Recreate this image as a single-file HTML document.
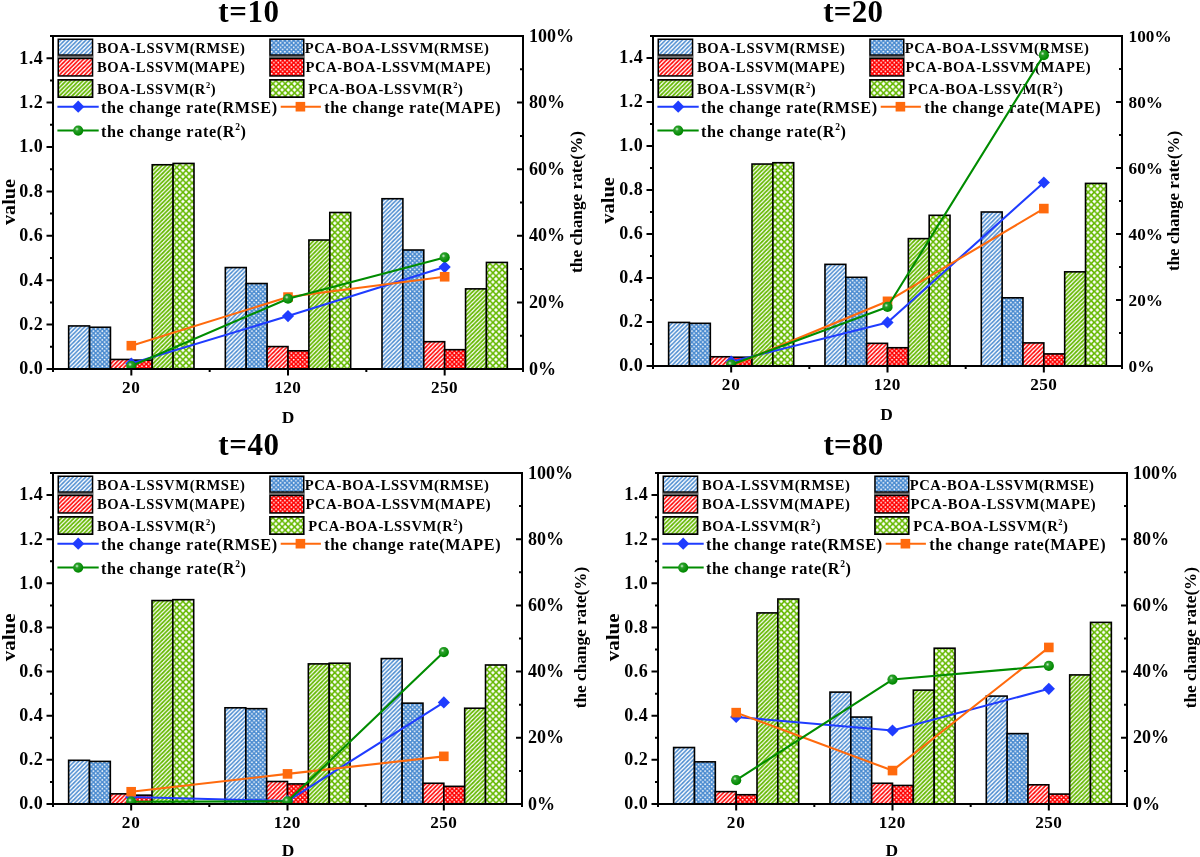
<!DOCTYPE html>
<html><head><meta charset="utf-8"><style>
html,body{margin:0;padding:0;background:#fff;}
svg{display:block;will-change:transform;}
text{font-family:"Liberation Serif", serif;font-weight:bold;fill:#000;}
</style></head><body>
<svg width="1200" height="857" viewBox="0 0 1200 857">
<rect width="1200" height="857" fill="#fff"/>
<defs><pattern id="hb" patternUnits="userSpaceOnUse" width="4.2" height="4.2"><rect width="4.2" height="4.2" fill="#fff"/><path d="M0 4.2L4.2 0M-2.10 2.10L2.10 -2.10M2.10 6.30L6.30 2.10" stroke="#4a8bd0" stroke-width="1.54"/></pattern><pattern id="hr" patternUnits="userSpaceOnUse" width="4.2" height="4.2"><rect width="4.2" height="4.2" fill="#fff"/><path d="M0 4.2L4.2 0M-2.10 2.10L2.10 -2.10M2.10 6.30L6.30 2.10" stroke="#ff0000" stroke-width="1.63"/></pattern><pattern id="hg" patternUnits="userSpaceOnUse" width="4.2" height="4.2"><rect width="4.2" height="4.2" fill="#fff"/><path d="M0 4.2L4.2 0M-2.10 2.10L2.10 -2.10M2.10 6.30L6.30 2.10" stroke="#64b800" stroke-width="1.72"/></pattern><pattern id="db" patternUnits="userSpaceOnUse" width="4.4" height="4.4"><rect width="4.4" height="4.4" fill="#4a8bd0"/><circle cx="1.10" cy="1.10" r="0.9" fill="#fff"/><circle cx="3.30" cy="3.30" r="0.9" fill="#fff"/></pattern><pattern id="dr" patternUnits="userSpaceOnUse" width="4.4" height="4.4"><rect width="4.4" height="4.4" fill="#ff0000"/><circle cx="1.10" cy="1.10" r="0.9" fill="#fff"/><circle cx="3.30" cy="3.30" r="0.9" fill="#fff"/></pattern><pattern id="xg" patternUnits="userSpaceOnUse" width="6.2" height="6.2"><rect width="6.2" height="6.2" fill="#64b800"/><path d="M-1.95 0.00L0.00 -1.95L1.95 0.00L0.00 1.95Z" fill="#fff"/><path d="M4.25 0.00L6.20 -1.95L8.15 0.00L6.20 1.95Z" fill="#fff"/><path d="M-1.95 6.20L0.00 4.25L1.95 6.20L0.00 8.15Z" fill="#fff"/><path d="M4.25 6.20L6.20 4.25L8.15 6.20L6.20 8.15Z" fill="#fff"/><path d="M1.15 3.10L3.10 1.15L5.05 3.10L3.10 5.05Z" fill="#fff"/></pattern><radialGradient id="ball" cx="0.38" cy="0.35" r="0.6"><stop offset="0" stop-color="#d8f0d8"/><stop offset="0.3" stop-color="#2aa02a"/><stop offset="1" stop-color="#008800"/></radialGradient></defs>
<text x="218.2" y="21.8" font-size="31" textLength="60.8" lengthAdjust="spacing">t=10</text>
<rect x="68.67" y="325.93" width="20.89" height="43.07" fill="url(#hb)" stroke="#000" stroke-width="1.6"/>
<rect x="89.56" y="327.26" width="20.89" height="41.74" fill="url(#db)" stroke="#000" stroke-width="1.6"/>
<rect x="110.44" y="359.45" width="20.89" height="9.55" fill="url(#hr)" stroke="#000" stroke-width="1.6"/>
<rect x="131.33" y="360.12" width="20.89" height="8.88" fill="url(#dr)" stroke="#000" stroke-width="1.6"/>
<rect x="152.22" y="164.76" width="20.89" height="204.24" fill="url(#hg)" stroke="#000" stroke-width="1.6"/>
<rect x="173.11" y="163.43" width="20.89" height="205.57" fill="url(#xg)" stroke="#000" stroke-width="1.6"/>
<rect x="225.33" y="267.55" width="20.89" height="101.45" fill="url(#hb)" stroke="#000" stroke-width="1.6"/>
<rect x="246.22" y="283.53" width="20.89" height="85.47" fill="url(#db)" stroke="#000" stroke-width="1.6"/>
<rect x="267.11" y="346.58" width="20.89" height="22.42" fill="url(#hr)" stroke="#000" stroke-width="1.6"/>
<rect x="288" y="350.8" width="20.89" height="18.2" fill="url(#dr)" stroke="#000" stroke-width="1.6"/>
<rect x="308.89" y="240.02" width="20.89" height="128.98" fill="url(#hg)" stroke="#000" stroke-width="1.6"/>
<rect x="329.78" y="212.49" width="20.89" height="156.51" fill="url(#xg)" stroke="#000" stroke-width="1.6"/>
<rect x="382" y="198.73" width="20.89" height="170.27" fill="url(#hb)" stroke="#000" stroke-width="1.6"/>
<rect x="402.89" y="250.01" width="20.89" height="118.99" fill="url(#db)" stroke="#000" stroke-width="1.6"/>
<rect x="423.78" y="341.69" width="20.89" height="27.31" fill="url(#hr)" stroke="#000" stroke-width="1.6"/>
<rect x="444.67" y="349.69" width="20.89" height="19.31" fill="url(#dr)" stroke="#000" stroke-width="1.6"/>
<rect x="465.56" y="288.86" width="20.89" height="80.14" fill="url(#hg)" stroke="#000" stroke-width="1.6"/>
<rect x="486.44" y="262.44" width="20.89" height="106.56" fill="url(#xg)" stroke="#000" stroke-width="1.6"/>
<rect x="57.25" y="55.6" width="36.3" height="2.2" fill="#6e6e6e"/>
<rect x="268.95" y="55.6" width="35.8" height="2.2" fill="#6e6e6e"/>
<rect x="58.25" y="39.25" width="34.3" height="15.8" fill="url(#hb)" stroke="#000" stroke-width="1.5"/>
<rect x="58.25" y="58.45" width="34.3" height="17.5" fill="url(#hr)" stroke="#000" stroke-width="1.5"/>
<rect x="58.25" y="79.85" width="34.3" height="17.3" fill="url(#hg)" stroke="#000" stroke-width="1.7"/>
<rect x="269.95" y="39.25" width="33.8" height="15.8" fill="url(#db)" stroke="#000" stroke-width="1.5"/>
<rect x="269.95" y="58.45" width="33.8" height="17.5" fill="url(#dr)" stroke="#000" stroke-width="1.5"/>
<rect x="269.95" y="79.85" width="33.8" height="17.3" fill="url(#xg)" stroke="#000" stroke-width="1.7"/>
<text x="96.9" y="53.3" font-size="14.6" textLength="148" lengthAdjust="spacing">BOA-LSSVM(RMSE)</text>
<text x="96.9" y="72.3" font-size="14.6" textLength="148" lengthAdjust="spacing">BOA-LSSVM(MAPE)</text>
<text x="96.9" y="94.2" font-size="14.6" textLength="118.8" lengthAdjust="spacing">BOA-LSSVM(R<tspan font-size="8.5" dy="-6">2</tspan><tspan dy="6">)</tspan></text>
<text x="304.7" y="53.3" font-size="14.6" textLength="184.2" lengthAdjust="spacing">PCA-BOA-LSSVM(RMSE)</text>
<text x="305.5" y="72.3" font-size="14.6" textLength="185.2" lengthAdjust="spacing">PCA-BOA-LSSVM(MAPE)</text>
<text x="308.2" y="94.2" font-size="14.6" textLength="154.7" lengthAdjust="spacing">PCA-BOA-LSSVM(R<tspan font-size="8.5" dy="-6">2</tspan><tspan dy="6">)</tspan></text>
<line x1="57.4" y1="106.7" x2="98.7" y2="106.7" stroke="#1f3cff" stroke-width="2"/>
<path d="M78.2 100.6L84.3 106.7L78.2 112.8L72.1 106.7Z" fill="#1f3cff"/>
<line x1="280.7" y1="106.7" x2="320.9" y2="106.7" stroke="#ff6a0d" stroke-width="2"/>
<rect x="295.6" y="101.9" width="9.6" height="9.6" fill="#ff6a0d"/>
<line x1="57.4" y1="130.6" x2="98.7" y2="130.6" stroke="#008c00" stroke-width="2"/>
<circle cx="78.2" cy="130.6" r="5.1" fill="url(#ball)"/>
<text x="100.9" y="113.3" font-size="16.2" textLength="176.3" lengthAdjust="spacing">the change rate(RMSE)</text>
<text x="324.2" y="113.3" font-size="16.2" textLength="176.4" lengthAdjust="spacing">the change rate(MAPE)</text>
<text x="100.9" y="136.8" font-size="16.2" textLength="145.1" lengthAdjust="spacing">the change rate(R<tspan font-size="9.5" dy="-6.5">2</tspan><tspan dy="6.5">)</tspan></text>
<clipPath id="ct10"><rect x="53" y="36" width="470" height="333"/></clipPath><g clip-path="url(#ct10)">
<polyline points="131.33,363.51 288,316.05 444.67,267.1" fill="none" stroke="#1f3cff" stroke-width="2.1" stroke-linejoin="round"/>
<path d="M131.33 357.41L137.43 363.51L131.33 369.61L125.23 363.51Z" fill="#1f3cff"/>
<path d="M288 309.95L294.1 316.05L288 322.15L281.9 316.05Z" fill="#1f3cff"/>
<path d="M444.67 261L450.77 267.1L444.67 273.2L438.57 267.1Z" fill="#1f3cff"/>
<polyline points="131.33,345.69 288,297.07 444.67,276.76" fill="none" stroke="#ff6a0d" stroke-width="2.1" stroke-linejoin="round"/>
<rect x="126.53" y="340.89" width="9.6" height="9.6" fill="#ff6a0d"/>
<rect x="283.2" y="292.27" width="9.6" height="9.6" fill="#ff6a0d"/>
<rect x="439.87" y="271.96" width="9.6" height="9.6" fill="#ff6a0d"/>
<polyline points="131.33,366 288,298.74 444.67,257.44" fill="none" stroke="#008c00" stroke-width="2.1" stroke-linejoin="round"/>
<circle cx="131.33" cy="366" r="5.1" fill="url(#ball)"/>
<circle cx="288" cy="298.74" r="5.1" fill="url(#ball)"/>
<circle cx="444.67" cy="257.44" r="5.1" fill="url(#ball)"/>
</g>
<rect x="53" y="36" width="470" height="333" fill="none" stroke="#000" stroke-width="2"/>
<path d="M46.5 369H53M50 346.8H53M46.5 324.6H53M50 302.4H53M46.5 280.2H53M50 258H53M46.5 235.8H53M50 213.6H53M46.5 191.4H53M50 169.2H53M46.5 147H53M50 124.8H53M46.5 102.6H53M50 80.4H53M46.5 58.2H53M50 36H53M523 369H517M523 335.7H520M523 302.4H517M523 269.1H520M523 235.8H517M523 202.5H520M523 169.2H517M523 135.9H520M523 102.6H517M523 69.3H520M523 36H517M131.33 369V375.5M288 369V375.5M444.67 369V375.5M53 369V372M209.67 369V372M366.33 369V372M523 369V372" stroke="#000" stroke-width="2" fill="none"/>
<text x="42.8" y="374.3" font-size="18" text-anchor="end" textLength="23.5" lengthAdjust="spacing">0.0</text>
<text x="42.8" y="329.9" font-size="18" text-anchor="end" textLength="23.5" lengthAdjust="spacing">0.2</text>
<text x="42.8" y="285.5" font-size="18" text-anchor="end" textLength="23.5" lengthAdjust="spacing">0.4</text>
<text x="42.8" y="241.1" font-size="18" text-anchor="end" textLength="23.5" lengthAdjust="spacing">0.6</text>
<text x="42.8" y="196.7" font-size="18" text-anchor="end" textLength="23.5" lengthAdjust="spacing">0.8</text>
<text x="42.8" y="152.3" font-size="18" text-anchor="end" textLength="23.5" lengthAdjust="spacing">1.0</text>
<text x="42.8" y="107.9" font-size="18" text-anchor="end" textLength="23.5" lengthAdjust="spacing">1.2</text>
<text x="42.8" y="63.5" font-size="18" text-anchor="end" textLength="23.5" lengthAdjust="spacing">1.4</text>
<text x="529" y="374.6" font-size="18">0%</text>
<text x="529" y="308" font-size="18">20%</text>
<text x="529" y="241.4" font-size="18">40%</text>
<text x="529" y="174.8" font-size="18">60%</text>
<text x="529" y="108.2" font-size="18">80%</text>
<text x="529" y="41.6" font-size="18">100%</text>
<text x="130.93" y="393.4" font-size="17.2" text-anchor="middle" textLength="18" lengthAdjust="spacing">20</text>
<text x="287.6" y="393.4" font-size="17.2" text-anchor="middle" textLength="26.6" lengthAdjust="spacing">120</text>
<text x="444.27" y="393.4" font-size="17.2" text-anchor="middle" textLength="26.6" lengthAdjust="spacing">250</text>
<text x="288" y="422.5" font-size="17.5" text-anchor="middle" textLength="12.6" lengthAdjust="spacingAndGlyphs">D</text>
<text transform="translate(14.5,202) rotate(-90)" font-size="19.6" text-anchor="middle" textLength="46" lengthAdjust="spacingAndGlyphs">value</text>
<text transform="translate(582,202) rotate(-90)" font-size="17.4" text-anchor="middle" textLength="141.8" lengthAdjust="spacingAndGlyphs">the change rate(%)</text><text x="823.2" y="21.8" font-size="31" textLength="59.8" lengthAdjust="spacing">t=20</text>
<rect x="668.63" y="322.44" width="20.84" height="43.56" fill="url(#hb)" stroke="#000" stroke-width="1.6"/>
<rect x="689.48" y="323.32" width="20.84" height="42.68" fill="url(#db)" stroke="#000" stroke-width="1.6"/>
<rect x="710.32" y="356.76" width="20.84" height="9.24" fill="url(#hr)" stroke="#000" stroke-width="1.6"/>
<rect x="731.17" y="357.2" width="20.84" height="8.8" fill="url(#dr)" stroke="#000" stroke-width="1.6"/>
<rect x="752.01" y="164.04" width="20.84" height="201.96" fill="url(#hg)" stroke="#000" stroke-width="1.6"/>
<rect x="772.86" y="162.72" width="20.84" height="203.28" fill="url(#xg)" stroke="#000" stroke-width="1.6"/>
<rect x="824.97" y="264.36" width="20.84" height="101.64" fill="url(#hb)" stroke="#000" stroke-width="1.6"/>
<rect x="845.81" y="277.34" width="20.84" height="88.66" fill="url(#db)" stroke="#000" stroke-width="1.6"/>
<rect x="866.66" y="343.34" width="20.84" height="22.66" fill="url(#hr)" stroke="#000" stroke-width="1.6"/>
<rect x="887.5" y="347.74" width="20.84" height="18.26" fill="url(#dr)" stroke="#000" stroke-width="1.6"/>
<rect x="908.34" y="238.62" width="20.84" height="127.38" fill="url(#hg)" stroke="#000" stroke-width="1.6"/>
<rect x="929.19" y="215.3" width="20.84" height="150.7" fill="url(#xg)" stroke="#000" stroke-width="1.6"/>
<rect x="981.3" y="212" width="20.84" height="154" fill="url(#hb)" stroke="#000" stroke-width="1.6"/>
<rect x="1002.14" y="297.8" width="20.84" height="68.2" fill="url(#db)" stroke="#000" stroke-width="1.6"/>
<rect x="1022.99" y="342.9" width="20.84" height="23.1" fill="url(#hr)" stroke="#000" stroke-width="1.6"/>
<rect x="1043.83" y="353.9" width="20.84" height="12.1" fill="url(#dr)" stroke="#000" stroke-width="1.6"/>
<rect x="1064.68" y="271.84" width="20.84" height="94.16" fill="url(#hg)" stroke="#000" stroke-width="1.6"/>
<rect x="1085.52" y="183.4" width="20.84" height="182.6" fill="url(#xg)" stroke="#000" stroke-width="1.6"/>
<rect x="657.25" y="55.6" width="36.3" height="2.2" fill="#6e6e6e"/>
<rect x="868.95" y="55.6" width="35.8" height="2.2" fill="#6e6e6e"/>
<rect x="658.25" y="39.25" width="34.3" height="15.8" fill="url(#hb)" stroke="#000" stroke-width="1.5"/>
<rect x="658.25" y="58.45" width="34.3" height="17.5" fill="url(#hr)" stroke="#000" stroke-width="1.5"/>
<rect x="658.25" y="79.85" width="34.3" height="17.3" fill="url(#hg)" stroke="#000" stroke-width="1.7"/>
<rect x="869.95" y="39.25" width="33.8" height="15.8" fill="url(#db)" stroke="#000" stroke-width="1.5"/>
<rect x="869.95" y="58.45" width="33.8" height="17.5" fill="url(#dr)" stroke="#000" stroke-width="1.5"/>
<rect x="869.95" y="79.85" width="33.8" height="17.3" fill="url(#xg)" stroke="#000" stroke-width="1.7"/>
<text x="696.9" y="53.3" font-size="14.6" textLength="148" lengthAdjust="spacing">BOA-LSSVM(RMSE)</text>
<text x="696.9" y="72.3" font-size="14.6" textLength="148" lengthAdjust="spacing">BOA-LSSVM(MAPE)</text>
<text x="696.9" y="94.2" font-size="14.6" textLength="118.8" lengthAdjust="spacing">BOA-LSSVM(R<tspan font-size="8.5" dy="-6">2</tspan><tspan dy="6">)</tspan></text>
<text x="904.7" y="53.3" font-size="14.6" textLength="184.2" lengthAdjust="spacing">PCA-BOA-LSSVM(RMSE)</text>
<text x="905.5" y="72.3" font-size="14.6" textLength="185.2" lengthAdjust="spacing">PCA-BOA-LSSVM(MAPE)</text>
<text x="908.2" y="94.2" font-size="14.6" textLength="154.7" lengthAdjust="spacing">PCA-BOA-LSSVM(R<tspan font-size="8.5" dy="-6">2</tspan><tspan dy="6">)</tspan></text>
<line x1="657.4" y1="106.7" x2="698.7" y2="106.7" stroke="#1f3cff" stroke-width="2"/>
<path d="M678.2 100.6L684.3 106.7L678.2 112.8L672.1 106.7Z" fill="#1f3cff"/>
<line x1="880.7" y1="106.7" x2="920.9" y2="106.7" stroke="#ff6a0d" stroke-width="2"/>
<rect x="895.6" y="101.9" width="9.6" height="9.6" fill="#ff6a0d"/>
<line x1="657.4" y1="130.6" x2="698.7" y2="130.6" stroke="#008c00" stroke-width="2"/>
<circle cx="678.2" cy="130.6" r="5.1" fill="url(#ball)"/>
<text x="700.9" y="113.3" font-size="16.2" textLength="176.3" lengthAdjust="spacing">the change rate(RMSE)</text>
<text x="924.2" y="113.3" font-size="16.2" textLength="176.4" lengthAdjust="spacing">the change rate(MAPE)</text>
<text x="700.9" y="136.8" font-size="16.2" textLength="145.1" lengthAdjust="spacing">the change rate(R<tspan font-size="9.5" dy="-6.5">2</tspan><tspan dy="6.5">)</tspan></text>
<clipPath id="ct20"><rect x="653" y="36" width="469" height="330"/></clipPath><g clip-path="url(#ct20)">
<polyline points="731.17,361.71 887.5,322.44 1043.83,182.52" fill="none" stroke="#1f3cff" stroke-width="2.1" stroke-linejoin="round"/>
<path d="M731.17 355.61L737.27 361.71L731.17 367.81L725.07 361.71Z" fill="#1f3cff"/>
<path d="M887.5 316.34L893.6 322.44L887.5 328.54L881.4 322.44Z" fill="#1f3cff"/>
<path d="M1043.83 176.42L1049.93 182.52L1043.83 188.62L1037.73 182.52Z" fill="#1f3cff"/>
<polyline points="731.17,366 887.5,301.32 1043.83,208.59" fill="none" stroke="#ff6a0d" stroke-width="2.1" stroke-linejoin="round"/>
<rect x="726.37" y="361.2" width="9.6" height="9.6" fill="#ff6a0d"/>
<rect x="882.7" y="296.52" width="9.6" height="9.6" fill="#ff6a0d"/>
<rect x="1039.03" y="203.79" width="9.6" height="9.6" fill="#ff6a0d"/>
<polyline points="731.17,364.68 887.5,306.93 1043.83,55.14" fill="none" stroke="#008c00" stroke-width="2.1" stroke-linejoin="round"/>
<circle cx="731.17" cy="364.68" r="5.1" fill="url(#ball)"/>
<circle cx="887.5" cy="306.93" r="5.1" fill="url(#ball)"/>
<circle cx="1043.83" cy="55.14" r="5.1" fill="url(#ball)"/>
</g>
<rect x="653" y="36" width="469" height="330" fill="none" stroke="#000" stroke-width="2"/>
<path d="M646.5 366H653M650 344H653M646.5 322H653M650 300H653M646.5 278H653M650 256H653M646.5 234H653M650 212H653M646.5 190H653M650 168H653M646.5 146H653M650 124H653M646.5 102H653M650 80H653M646.5 58H653M650 36H653M1122 366H1116M1122 333H1119M1122 300H1116M1122 267H1119M1122 234H1116M1122 201H1119M1122 168H1116M1122 135H1119M1122 102H1116M1122 69H1119M1122 36H1116M731.17 366V372.5M887.5 366V372.5M1043.83 366V372.5M653 366V369M809.33 366V369M965.67 366V369M1122 366V369" stroke="#000" stroke-width="2" fill="none"/>
<text x="642.8" y="371.3" font-size="18" text-anchor="end" textLength="23.5" lengthAdjust="spacing">0.0</text>
<text x="642.8" y="327.3" font-size="18" text-anchor="end" textLength="23.5" lengthAdjust="spacing">0.2</text>
<text x="642.8" y="283.3" font-size="18" text-anchor="end" textLength="23.5" lengthAdjust="spacing">0.4</text>
<text x="642.8" y="239.3" font-size="18" text-anchor="end" textLength="23.5" lengthAdjust="spacing">0.6</text>
<text x="642.8" y="195.3" font-size="18" text-anchor="end" textLength="23.5" lengthAdjust="spacing">0.8</text>
<text x="642.8" y="151.3" font-size="18" text-anchor="end" textLength="23.5" lengthAdjust="spacing">1.0</text>
<text x="642.8" y="107.3" font-size="18" text-anchor="end" textLength="23.5" lengthAdjust="spacing">1.2</text>
<text x="642.8" y="63.3" font-size="18" text-anchor="end" textLength="23.5" lengthAdjust="spacing">1.4</text>
<text x="1128.6" y="371.6" font-size="17.2">0%</text>
<text x="1128.6" y="305.6" font-size="17.2">20%</text>
<text x="1128.6" y="239.6" font-size="17.2">40%</text>
<text x="1128.6" y="173.6" font-size="17.2">60%</text>
<text x="1128.6" y="107.6" font-size="17.2">80%</text>
<text x="1128.6" y="41.6" font-size="17.2">100%</text>
<text x="730.77" y="390.4" font-size="17.2" text-anchor="middle" textLength="18" lengthAdjust="spacing">20</text>
<text x="887.1" y="390.4" font-size="17.2" text-anchor="middle" textLength="26.6" lengthAdjust="spacing">120</text>
<text x="1043.43" y="390.4" font-size="17.2" text-anchor="middle" textLength="26.6" lengthAdjust="spacing">250</text>
<text x="886.5" y="419.5" font-size="17.5" text-anchor="middle" textLength="12.6" lengthAdjust="spacingAndGlyphs">D</text>
<text transform="translate(614.4,200.4) rotate(-90)" font-size="19.6" text-anchor="middle" textLength="46.6" lengthAdjust="spacingAndGlyphs">value</text>
<text transform="translate(1179.2,201) rotate(-90)" font-size="17.4" text-anchor="middle" textLength="140.2" lengthAdjust="spacingAndGlyphs">the change rate(%)</text><text x="218.2" y="455" font-size="31" textLength="60.8" lengthAdjust="spacing">t=40</text>
<rect x="68.63" y="760.31" width="20.84" height="43.69" fill="url(#hb)" stroke="#000" stroke-width="1.6"/>
<rect x="89.48" y="761.41" width="20.84" height="42.59" fill="url(#db)" stroke="#000" stroke-width="1.6"/>
<rect x="110.32" y="793.85" width="20.84" height="10.15" fill="url(#hr)" stroke="#000" stroke-width="1.6"/>
<rect x="131.17" y="795.17" width="20.84" height="8.83" fill="url(#dr)" stroke="#000" stroke-width="1.6"/>
<rect x="152.01" y="600.55" width="20.84" height="203.45" fill="url(#hg)" stroke="#000" stroke-width="1.6"/>
<rect x="172.86" y="599.66" width="20.84" height="204.34" fill="url(#xg)" stroke="#000" stroke-width="1.6"/>
<rect x="224.97" y="707.79" width="20.84" height="96.21" fill="url(#hb)" stroke="#000" stroke-width="1.6"/>
<rect x="245.81" y="708.67" width="20.84" height="95.33" fill="url(#db)" stroke="#000" stroke-width="1.6"/>
<rect x="266.66" y="781.49" width="20.84" height="22.51" fill="url(#hr)" stroke="#000" stroke-width="1.6"/>
<rect x="287.5" y="783.92" width="20.84" height="20.08" fill="url(#dr)" stroke="#000" stroke-width="1.6"/>
<rect x="308.34" y="663.88" width="20.84" height="140.12" fill="url(#hg)" stroke="#000" stroke-width="1.6"/>
<rect x="329.19" y="663.21" width="20.84" height="140.79" fill="url(#xg)" stroke="#000" stroke-width="1.6"/>
<rect x="381.3" y="658.58" width="20.84" height="145.42" fill="url(#hb)" stroke="#000" stroke-width="1.6"/>
<rect x="402.14" y="703.16" width="20.84" height="100.84" fill="url(#db)" stroke="#000" stroke-width="1.6"/>
<rect x="422.99" y="783.26" width="20.84" height="20.74" fill="url(#hr)" stroke="#000" stroke-width="1.6"/>
<rect x="443.83" y="786.35" width="20.84" height="17.65" fill="url(#dr)" stroke="#000" stroke-width="1.6"/>
<rect x="464.68" y="708.23" width="20.84" height="95.77" fill="url(#hg)" stroke="#000" stroke-width="1.6"/>
<rect x="485.52" y="664.98" width="20.84" height="139.02" fill="url(#xg)" stroke="#000" stroke-width="1.6"/>
<rect x="57.25" y="492.6" width="36.3" height="2.2" fill="#6e6e6e"/>
<rect x="268.95" y="492.6" width="35.8" height="2.2" fill="#6e6e6e"/>
<rect x="58.25" y="476.25" width="34.3" height="15.8" fill="url(#hb)" stroke="#000" stroke-width="1.5"/>
<rect x="58.25" y="495.45" width="34.3" height="17.5" fill="url(#hr)" stroke="#000" stroke-width="1.5"/>
<rect x="58.25" y="516.85" width="34.3" height="17.3" fill="url(#hg)" stroke="#000" stroke-width="1.7"/>
<rect x="269.95" y="476.25" width="33.8" height="15.8" fill="url(#db)" stroke="#000" stroke-width="1.5"/>
<rect x="269.95" y="495.45" width="33.8" height="17.5" fill="url(#dr)" stroke="#000" stroke-width="1.5"/>
<rect x="269.95" y="516.85" width="33.8" height="17.3" fill="url(#xg)" stroke="#000" stroke-width="1.7"/>
<text x="96.9" y="490.3" font-size="14.6" textLength="148" lengthAdjust="spacing">BOA-LSSVM(RMSE)</text>
<text x="96.9" y="509.3" font-size="14.6" textLength="148" lengthAdjust="spacing">BOA-LSSVM(MAPE)</text>
<text x="96.9" y="531.2" font-size="14.6" textLength="118.8" lengthAdjust="spacing">BOA-LSSVM(R<tspan font-size="8.5" dy="-6">2</tspan><tspan dy="6">)</tspan></text>
<text x="304.7" y="490.3" font-size="14.6" textLength="184.2" lengthAdjust="spacing">PCA-BOA-LSSVM(RMSE)</text>
<text x="305.5" y="509.3" font-size="14.6" textLength="185.2" lengthAdjust="spacing">PCA-BOA-LSSVM(MAPE)</text>
<text x="308.2" y="531.2" font-size="14.6" textLength="154.7" lengthAdjust="spacing">PCA-BOA-LSSVM(R<tspan font-size="8.5" dy="-6">2</tspan><tspan dy="6">)</tspan></text>
<line x1="57.4" y1="543.7" x2="98.7" y2="543.7" stroke="#1f3cff" stroke-width="2"/>
<path d="M78.2 537.6L84.3 543.7L78.2 549.8L72.1 543.7Z" fill="#1f3cff"/>
<line x1="280.7" y1="543.7" x2="320.9" y2="543.7" stroke="#ff6a0d" stroke-width="2"/>
<rect x="295.6" y="538.9" width="9.6" height="9.6" fill="#ff6a0d"/>
<line x1="57.4" y1="567.6" x2="98.7" y2="567.6" stroke="#008c00" stroke-width="2"/>
<circle cx="78.2" cy="567.6" r="5.1" fill="url(#ball)"/>
<text x="100.9" y="550.3" font-size="16.2" textLength="176.3" lengthAdjust="spacing">the change rate(RMSE)</text>
<text x="324.2" y="550.3" font-size="16.2" textLength="176.4" lengthAdjust="spacing">the change rate(MAPE)</text>
<text x="100.9" y="573.8" font-size="16.2" textLength="145.1" lengthAdjust="spacing">the change rate(R<tspan font-size="9.5" dy="-6.5">2</tspan><tspan dy="6.5">)</tspan></text>
<clipPath id="ct40"><rect x="53" y="473" width="469" height="331"/></clipPath><g clip-path="url(#ct40)">
<polyline points="131.17,797.05 287.5,801.02 443.83,702.38" fill="none" stroke="#1f3cff" stroke-width="2.1" stroke-linejoin="round"/>
<path d="M131.17 790.95L137.27 797.05L131.17 803.15L125.07 797.05Z" fill="#1f3cff"/>
<path d="M287.5 794.92L293.6 801.02L287.5 807.12L281.4 801.02Z" fill="#1f3cff"/>
<path d="M443.83 696.28L449.93 702.38L443.83 708.48L437.73 702.38Z" fill="#1f3cff"/>
<polyline points="131.17,791.75 287.5,773.88 443.83,756.34" fill="none" stroke="#ff6a0d" stroke-width="2.1" stroke-linejoin="round"/>
<rect x="126.37" y="786.95" width="9.6" height="9.6" fill="#ff6a0d"/>
<rect x="282.7" y="769.08" width="9.6" height="9.6" fill="#ff6a0d"/>
<rect x="439.03" y="751.54" width="9.6" height="9.6" fill="#ff6a0d"/>
<polyline points="131.17,801.68 287.5,801.35 443.83,652.07" fill="none" stroke="#008c00" stroke-width="2.1" stroke-linejoin="round"/>
<circle cx="131.17" cy="801.68" r="5.1" fill="url(#ball)"/>
<circle cx="287.5" cy="801.35" r="5.1" fill="url(#ball)"/>
<circle cx="443.83" cy="652.07" r="5.1" fill="url(#ball)"/>
</g>
<rect x="53" y="473" width="469" height="331" fill="none" stroke="#000" stroke-width="2"/>
<path d="M46.5 804H53M50 781.93H53M46.5 759.87H53M50 737.8H53M46.5 715.73H53M50 693.67H53M46.5 671.6H53M50 649.53H53M46.5 627.47H53M50 605.4H53M46.5 583.33H53M50 561.27H53M46.5 539.2H53M50 517.13H53M46.5 495.07H53M50 473H53M522 804H516M522 770.9H519M522 737.8H516M522 704.7H519M522 671.6H516M522 638.5H519M522 605.4H516M522 572.3H519M522 539.2H516M522 506.1H519M522 473H516M131.17 804V810.5M287.5 804V810.5M443.83 804V810.5M53 804V807M209.33 804V807M365.67 804V807M522 804V807" stroke="#000" stroke-width="2" fill="none"/>
<text x="42.8" y="809.3" font-size="18" text-anchor="end" textLength="23.5" lengthAdjust="spacing">0.0</text>
<text x="42.8" y="765.17" font-size="18" text-anchor="end" textLength="23.5" lengthAdjust="spacing">0.2</text>
<text x="42.8" y="721.03" font-size="18" text-anchor="end" textLength="23.5" lengthAdjust="spacing">0.4</text>
<text x="42.8" y="676.9" font-size="18" text-anchor="end" textLength="23.5" lengthAdjust="spacing">0.6</text>
<text x="42.8" y="632.77" font-size="18" text-anchor="end" textLength="23.5" lengthAdjust="spacing">0.8</text>
<text x="42.8" y="588.63" font-size="18" text-anchor="end" textLength="23.5" lengthAdjust="spacing">1.0</text>
<text x="42.8" y="544.5" font-size="18" text-anchor="end" textLength="23.5" lengthAdjust="spacing">1.2</text>
<text x="42.8" y="500.37" font-size="18" text-anchor="end" textLength="23.5" lengthAdjust="spacing">1.4</text>
<text x="528" y="809.6" font-size="18">0%</text>
<text x="528" y="743.4" font-size="18">20%</text>
<text x="528" y="677.2" font-size="18">40%</text>
<text x="528" y="611" font-size="18">60%</text>
<text x="528" y="544.8" font-size="18">80%</text>
<text x="528" y="478.6" font-size="18">100%</text>
<text x="130.77" y="828.4" font-size="17.2" text-anchor="middle" textLength="18" lengthAdjust="spacing">20</text>
<text x="287.1" y="828.4" font-size="17.2" text-anchor="middle" textLength="26.6" lengthAdjust="spacing">120</text>
<text x="443.43" y="828.4" font-size="17.2" text-anchor="middle" textLength="26.6" lengthAdjust="spacing">250</text>
<text x="288" y="855.7" font-size="17.5" text-anchor="middle" textLength="12.6" lengthAdjust="spacingAndGlyphs">D</text>
<text transform="translate(14.5,637.4) rotate(-90)" font-size="19.6" text-anchor="middle" textLength="47.7" lengthAdjust="spacingAndGlyphs">value</text>
<text transform="translate(585.7,637.5) rotate(-90)" font-size="17.4" text-anchor="middle" textLength="141.5" lengthAdjust="spacingAndGlyphs">the change rate(%)</text><text x="823.4" y="455" font-size="31" textLength="59.8" lengthAdjust="spacing">t=80</text>
<rect x="673.63" y="747.51" width="20.84" height="56.49" fill="url(#hb)" stroke="#000" stroke-width="1.6"/>
<rect x="694.48" y="761.85" width="20.84" height="42.15" fill="url(#db)" stroke="#000" stroke-width="1.6"/>
<rect x="715.32" y="791.64" width="20.84" height="12.36" fill="url(#hr)" stroke="#000" stroke-width="1.6"/>
<rect x="736.17" y="794.73" width="20.84" height="9.27" fill="url(#dr)" stroke="#000" stroke-width="1.6"/>
<rect x="757.01" y="612.9" width="20.84" height="191.1" fill="url(#hg)" stroke="#000" stroke-width="1.6"/>
<rect x="777.86" y="599" width="20.84" height="205" fill="url(#xg)" stroke="#000" stroke-width="1.6"/>
<rect x="829.97" y="692.12" width="20.84" height="111.88" fill="url(#hb)" stroke="#000" stroke-width="1.6"/>
<rect x="850.81" y="717.06" width="20.84" height="86.94" fill="url(#db)" stroke="#000" stroke-width="1.6"/>
<rect x="871.66" y="783.26" width="20.84" height="20.74" fill="url(#hr)" stroke="#000" stroke-width="1.6"/>
<rect x="892.5" y="785.46" width="20.84" height="18.54" fill="url(#dr)" stroke="#000" stroke-width="1.6"/>
<rect x="913.34" y="690.14" width="20.84" height="113.86" fill="url(#hg)" stroke="#000" stroke-width="1.6"/>
<rect x="934.19" y="648.21" width="20.84" height="155.79" fill="url(#xg)" stroke="#000" stroke-width="1.6"/>
<rect x="986.3" y="696.09" width="20.84" height="107.91" fill="url(#hb)" stroke="#000" stroke-width="1.6"/>
<rect x="1007.14" y="733.61" width="20.84" height="70.39" fill="url(#db)" stroke="#000" stroke-width="1.6"/>
<rect x="1027.99" y="784.8" width="20.84" height="19.2" fill="url(#hr)" stroke="#000" stroke-width="1.6"/>
<rect x="1048.83" y="794.07" width="20.84" height="9.93" fill="url(#dr)" stroke="#000" stroke-width="1.6"/>
<rect x="1069.68" y="674.91" width="20.84" height="129.09" fill="url(#hg)" stroke="#000" stroke-width="1.6"/>
<rect x="1090.52" y="622.39" width="20.84" height="181.61" fill="url(#xg)" stroke="#000" stroke-width="1.6"/>
<rect x="662.25" y="492.6" width="36.3" height="2.2" fill="#6e6e6e"/>
<rect x="873.95" y="492.6" width="35.8" height="2.2" fill="#6e6e6e"/>
<rect x="663.25" y="476.25" width="34.3" height="15.8" fill="url(#hb)" stroke="#000" stroke-width="1.5"/>
<rect x="663.25" y="495.45" width="34.3" height="17.5" fill="url(#hr)" stroke="#000" stroke-width="1.5"/>
<rect x="663.25" y="516.85" width="34.3" height="17.3" fill="url(#hg)" stroke="#000" stroke-width="1.7"/>
<rect x="874.95" y="476.25" width="33.8" height="15.8" fill="url(#db)" stroke="#000" stroke-width="1.5"/>
<rect x="874.95" y="495.45" width="33.8" height="17.5" fill="url(#dr)" stroke="#000" stroke-width="1.5"/>
<rect x="874.95" y="516.85" width="33.8" height="17.3" fill="url(#xg)" stroke="#000" stroke-width="1.7"/>
<text x="701.9" y="490.3" font-size="14.6" textLength="148" lengthAdjust="spacing">BOA-LSSVM(RMSE)</text>
<text x="701.9" y="509.3" font-size="14.6" textLength="148" lengthAdjust="spacing">BOA-LSSVM(MAPE)</text>
<text x="701.9" y="531.2" font-size="14.6" textLength="118.8" lengthAdjust="spacing">BOA-LSSVM(R<tspan font-size="8.5" dy="-6">2</tspan><tspan dy="6">)</tspan></text>
<text x="909.7" y="490.3" font-size="14.6" textLength="184.2" lengthAdjust="spacing">PCA-BOA-LSSVM(RMSE)</text>
<text x="910.5" y="509.3" font-size="14.6" textLength="185.2" lengthAdjust="spacing">PCA-BOA-LSSVM(MAPE)</text>
<text x="913.2" y="531.2" font-size="14.6" textLength="154.7" lengthAdjust="spacing">PCA-BOA-LSSVM(R<tspan font-size="8.5" dy="-6">2</tspan><tspan dy="6">)</tspan></text>
<line x1="662.4" y1="543.7" x2="703.7" y2="543.7" stroke="#1f3cff" stroke-width="2"/>
<path d="M683.2 537.6L689.3 543.7L683.2 549.8L677.1 543.7Z" fill="#1f3cff"/>
<line x1="885.7" y1="543.7" x2="925.9" y2="543.7" stroke="#ff6a0d" stroke-width="2"/>
<rect x="900.6" y="538.9" width="9.6" height="9.6" fill="#ff6a0d"/>
<line x1="662.4" y1="567.6" x2="703.7" y2="567.6" stroke="#008c00" stroke-width="2"/>
<circle cx="683.2" cy="567.6" r="5.1" fill="url(#ball)"/>
<text x="705.9" y="550.3" font-size="16.2" textLength="176.3" lengthAdjust="spacing">the change rate(RMSE)</text>
<text x="929.2" y="550.3" font-size="16.2" textLength="176.4" lengthAdjust="spacing">the change rate(MAPE)</text>
<text x="705.9" y="573.8" font-size="16.2" textLength="145.1" lengthAdjust="spacing">the change rate(R<tspan font-size="9.5" dy="-6.5">2</tspan><tspan dy="6.5">)</tspan></text>
<clipPath id="ct80"><rect x="658" y="473" width="469" height="331"/></clipPath><g clip-path="url(#ct80)">
<polyline points="736.17,716.95 892.5,730.52 1048.83,688.81" fill="none" stroke="#1f3cff" stroke-width="2.1" stroke-linejoin="round"/>
<path d="M736.17 710.85L742.27 716.95L736.17 723.05L730.07 716.95Z" fill="#1f3cff"/>
<path d="M892.5 724.42L898.6 730.52L892.5 736.62L886.4 730.52Z" fill="#1f3cff"/>
<path d="M1048.83 682.71L1054.93 688.81L1048.83 694.91L1042.73 688.81Z" fill="#1f3cff"/>
<polyline points="736.17,712.64 892.5,770.57 1048.83,647.44" fill="none" stroke="#ff6a0d" stroke-width="2.1" stroke-linejoin="round"/>
<rect x="731.37" y="707.84" width="9.6" height="9.6" fill="#ff6a0d"/>
<rect x="887.7" y="765.77" width="9.6" height="9.6" fill="#ff6a0d"/>
<rect x="1044.03" y="642.64" width="9.6" height="9.6" fill="#ff6a0d"/>
<polyline points="736.17,780.17 892.5,679.54 1048.83,665.97" fill="none" stroke="#008c00" stroke-width="2.1" stroke-linejoin="round"/>
<circle cx="736.17" cy="780.17" r="5.1" fill="url(#ball)"/>
<circle cx="892.5" cy="679.54" r="5.1" fill="url(#ball)"/>
<circle cx="1048.83" cy="665.97" r="5.1" fill="url(#ball)"/>
</g>
<rect x="658" y="473" width="469" height="331" fill="none" stroke="#000" stroke-width="2"/>
<path d="M651.5 804H658M655 781.93H658M651.5 759.87H658M655 737.8H658M651.5 715.73H658M655 693.67H658M651.5 671.6H658M655 649.53H658M651.5 627.47H658M655 605.4H658M651.5 583.33H658M655 561.27H658M651.5 539.2H658M655 517.13H658M651.5 495.07H658M655 473H658M1127 804H1121M1127 770.9H1124M1127 737.8H1121M1127 704.7H1124M1127 671.6H1121M1127 638.5H1124M1127 605.4H1121M1127 572.3H1124M1127 539.2H1121M1127 506.1H1124M1127 473H1121M736.17 804V810.5M892.5 804V810.5M1048.83 804V810.5M658 804V807M814.33 804V807M970.67 804V807M1127 804V807" stroke="#000" stroke-width="2" fill="none"/>
<text x="647.8" y="809.3" font-size="18" text-anchor="end" textLength="23.5" lengthAdjust="spacing">0.0</text>
<text x="647.8" y="765.17" font-size="18" text-anchor="end" textLength="23.5" lengthAdjust="spacing">0.2</text>
<text x="647.8" y="721.03" font-size="18" text-anchor="end" textLength="23.5" lengthAdjust="spacing">0.4</text>
<text x="647.8" y="676.9" font-size="18" text-anchor="end" textLength="23.5" lengthAdjust="spacing">0.6</text>
<text x="647.8" y="632.77" font-size="18" text-anchor="end" textLength="23.5" lengthAdjust="spacing">0.8</text>
<text x="647.8" y="588.63" font-size="18" text-anchor="end" textLength="23.5" lengthAdjust="spacing">1.0</text>
<text x="647.8" y="544.5" font-size="18" text-anchor="end" textLength="23.5" lengthAdjust="spacing">1.2</text>
<text x="647.8" y="500.37" font-size="18" text-anchor="end" textLength="23.5" lengthAdjust="spacing">1.4</text>
<text x="1133" y="809.6" font-size="18">0%</text>
<text x="1133" y="743.4" font-size="18">20%</text>
<text x="1133" y="677.2" font-size="18">40%</text>
<text x="1133" y="611" font-size="18">60%</text>
<text x="1133" y="544.8" font-size="18">80%</text>
<text x="1133" y="478.6" font-size="18">100%</text>
<text x="735.77" y="828.4" font-size="17.2" text-anchor="middle" textLength="18" lengthAdjust="spacing">20</text>
<text x="892.1" y="828.4" font-size="17.2" text-anchor="middle" textLength="26.6" lengthAdjust="spacing">120</text>
<text x="1048.43" y="828.4" font-size="17.2" text-anchor="middle" textLength="26.6" lengthAdjust="spacing">250</text>
<text x="891.75" y="856.2" font-size="17.5" text-anchor="middle" textLength="12.6" lengthAdjust="spacingAndGlyphs">D</text>
<text transform="translate(619.2,637.4) rotate(-90)" font-size="19.6" text-anchor="middle" textLength="47.7" lengthAdjust="spacingAndGlyphs">value</text>
<text transform="translate(1196,637.6) rotate(-90)" font-size="17.4" text-anchor="middle" textLength="141.2" lengthAdjust="spacingAndGlyphs">the change rate(%)</text>
</svg>
</body></html>
